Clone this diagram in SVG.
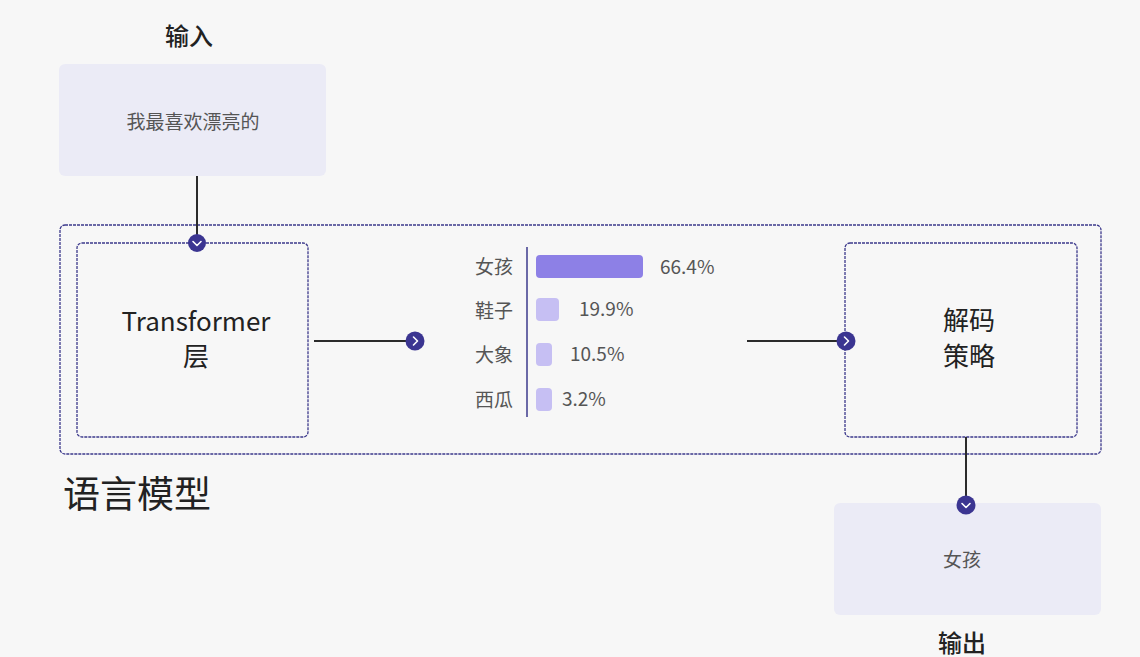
<svg xmlns="http://www.w3.org/2000/svg" width="1140" height="657" viewBox="0 0 1140 657">
<style>
text{font-family:"Noto Sans CJK SC","Noto Sans",sans-serif;}
.io{fill:#ebebf6;}
.dash{fill:none;stroke:#3d3a8c;stroke-width:1.3;stroke-dasharray:3 1;}
.title{font-size:24px;fill:#222;text-anchor:middle;font-weight:500;}
.iotext{font-size:19px;fill:#555;text-anchor:middle;}
.big{font-size:26px;fill:#222;text-anchor:middle;}
.lbl{font-size:19px;fill:#555;text-anchor:end;}
.pct{font-size:19px;fill:#555;}
.wire{stroke:#2b2b2b;stroke-width:2;fill:none;}
.dot{fill:#3b3591;}
.chev{fill:none;stroke:#fff;stroke-width:1.6;stroke-linecap:round;stroke-linejoin:round;}
</style>
<rect width="1140" height="657" fill="#f7f7f7"/>
<g id="input">
<text class="title" x="189" y="45">输入</text>
<rect class="io" x="59" y="64" width="267" height="112" rx="6"/>
<text class="iotext" x="193" y="129">我最喜欢漂亮的</text>
</g>
<g id="language-model">
<rect class="dash" x="60" y="225" width="1041" height="229" rx="5"/>
<text x="63" y="508" font-size="37" fill="#222">语言模型</text>
</g>
<g id="transformer">
<rect class="dash" x="77" y="243" width="231" height="194" rx="5"/>
<text class="big" x="196" y="331">Transformer</text>
<text class="big" x="196" y="366">层</text>
</g>
<g id="distribution">
<line x1="527" y1="247" x2="527" y2="417" stroke="#3d3a8c" stroke-width="1.5"/>
<text class="lbl" x="513" y="274">女孩</text>
<text class="lbl" x="513" y="318">鞋子</text>
<text class="lbl" x="513" y="362">大象</text>
<text class="lbl" x="513" y="407">西瓜</text>
<rect x="536" y="255" width="107" height="23" rx="4" fill="#8d80e6"/>
<rect x="536" y="298" width="23" height="23" rx="4" fill="#c6bff3"/>
<rect x="536" y="343" width="16" height="23" rx="4" fill="#c6bff3"/>
<rect x="536" y="388" width="16" height="23" rx="4" fill="#c6bff3"/>
<text class="pct" x="660" y="274">66.4%</text>
<text class="pct" x="579" y="316">19.9%</text>
<text class="pct" x="570" y="361">10.5%</text>
<text class="pct" x="562" y="406">3.2%</text>
</g>
<g id="decode">
<rect class="dash" x="845" y="243" width="232" height="194" rx="5"/>
<text class="big" x="969" y="330">解码</text>
<text class="big" x="969" y="366">策略</text>
</g>
<g id="output">
<rect class="io" x="834" y="503" width="267" height="112" rx="6"/>
<text class="iotext" x="962" y="567">女孩</text>
<text class="title" x="962" y="652">输出</text>
</g>
<g id="connectors">
<line class="wire" x1="197" y1="176" x2="197" y2="240"/>
<circle class="dot" cx="197" cy="243" r="9"/>
<polyline class="chev" points="193,241.5 197,245.5 201,241.5"/>
<line class="wire" x1="314" y1="341" x2="410" y2="341"/>
<circle class="dot" cx="415" cy="341" r="9.5"/>
<polyline class="chev" points="413.5,337 417.5,341 413.5,345"/>
<line class="wire" x1="747" y1="341" x2="842" y2="341"/>
<circle class="dot" cx="846" cy="341" r="9.5"/>
<polyline class="chev" points="844.5,337 848.5,341 844.5,345"/>
<line class="wire" x1="966" y1="437" x2="966" y2="500"/>
<circle class="dot" cx="966" cy="505" r="9.5"/>
<polyline class="chev" points="962,503.5 966,507.5 970,503.5"/>
</g>
</svg>
